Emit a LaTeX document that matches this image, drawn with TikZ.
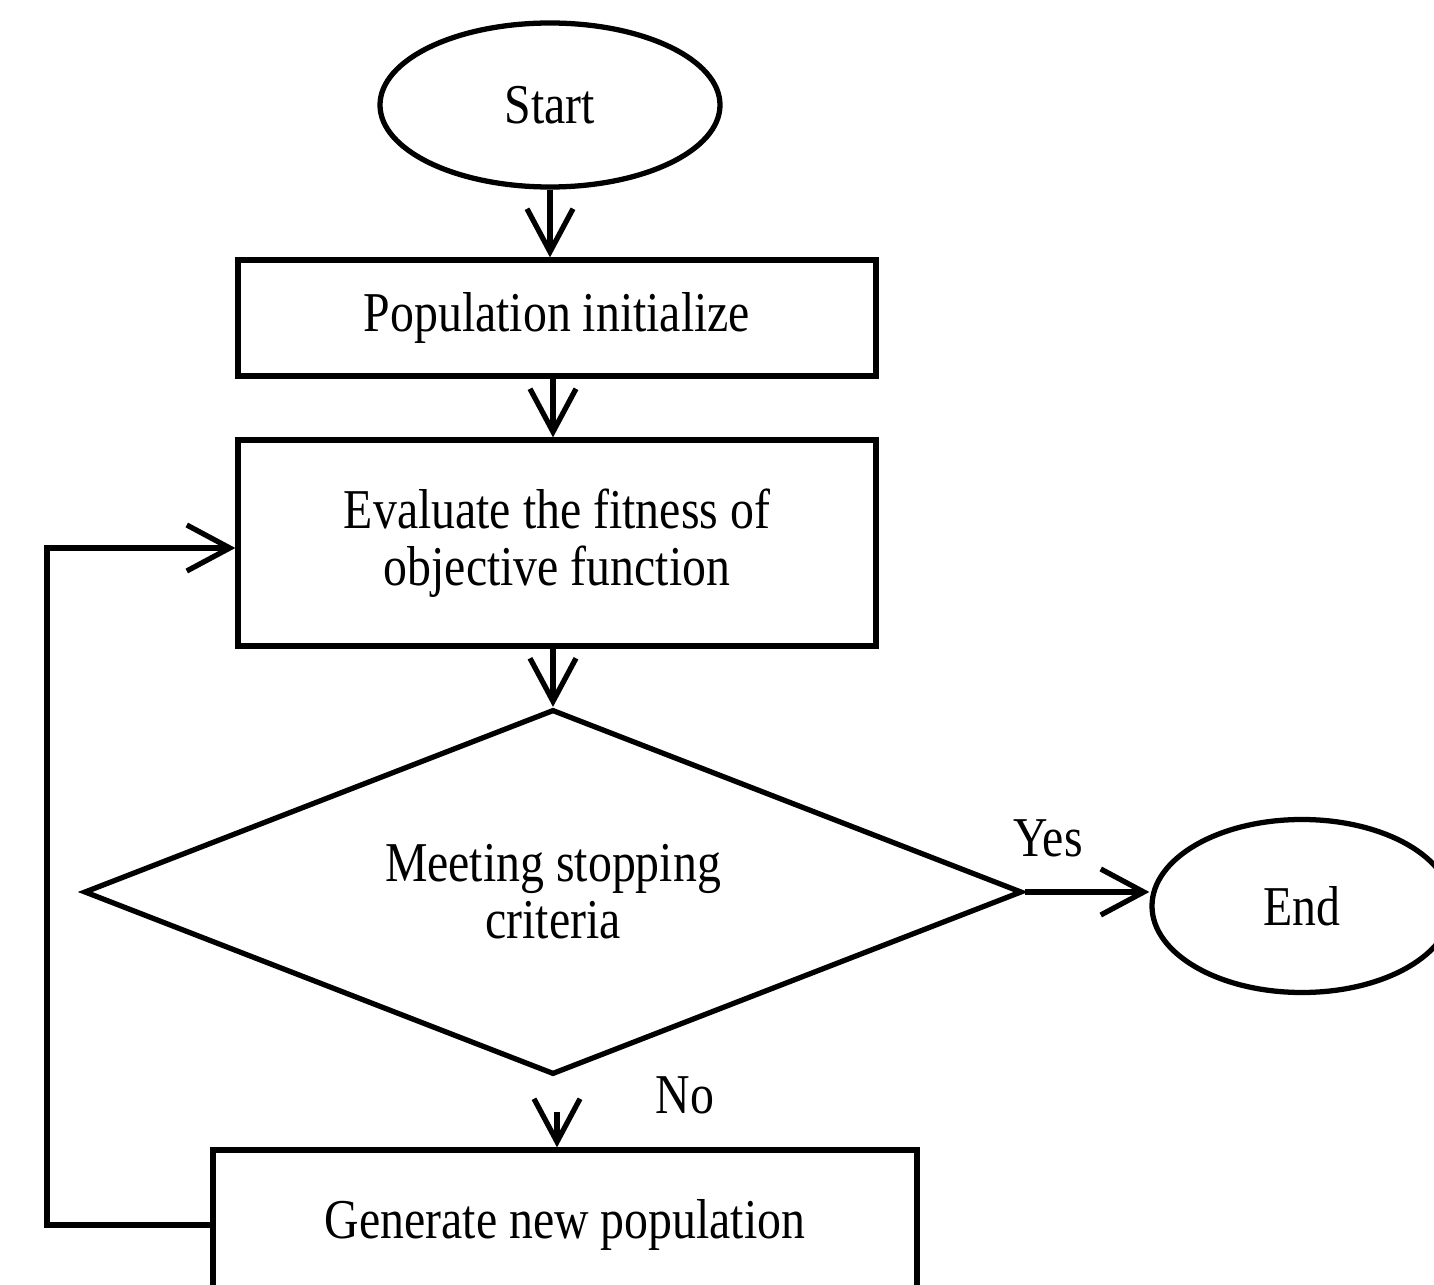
\documentclass[tikz,border=0pt]{standalone}
\usepackage{fontspec}
\setmainfont{Liberation Serif}[FakeStretch=0.85]
\usetikzlibrary{shapes.geometric,arrows.meta}

\begin{document}
\begin{tikzpicture}[
    line width=1.5pt,
    every node/.style={font=\fontsize{16}{16.2}\selectfont, align=center, inner sep=0pt},
    terminal/.style={draw, ellipse},
    procbox/.style={draw, rectangle, minimum width=6.38cm},
    decision/.style={draw, diamond, aspect=2.57, minimum width=9.38cm, minimum height=3.65cm},
    flow/.style={-{Straight Barb[length=4.3mm,width=4.6mm,line width=1.5pt]}}
  ]
    \useasboundingbox (0,0) rectangle (14.34,-12.85); % page size of the reference
    \clip (0,0) rectangle (14.34,-12.85);
    \node[terminal, minimum width=3.4cm, minimum height=1.64cm] (start) at (5.50,-1.05) {Start};
    \node[procbox, minimum height=1.16cm] (init) at (5.57,-3.18) {Population initialize};
    \node[procbox, minimum height=2.06cm] (eval) at (5.57,-5.43) {Evaluate the fitness of\\objective function};
    \node[decision] (stop) at (5.53,-8.92) {Meeting stopping\\criteria};
    \node[terminal, minimum width=3.0cm, minimum height=1.73cm] (end) at (13.02,-9.06) {End};
    \node[procbox, minimum width=7.04cm, minimum height=1.50cm] (gen) at (5.65,-12.25) {Generate new population};
    \node (yes) at (10.48,-8.38) {Yes}; % label of the exit branch
    \node (no) at (6.85,-10.95) {No}; % label of the loop branch
    \coordinate (back) at (0.47,-5.48); % corner of the feedback line
    \draw[flow] (start.south) -- (start.south |- init.north);
    \draw[flow] (init.south -| 5.53,0) -- (eval.north -| 5.53,0);
    \draw[flow] (eval.south -| stop.north) -- (stop.north);
    \draw[flow] (stop.east) -- (stop.east -| end.west);
    \draw[flow, shorten <=3.5mm] (stop.south -| 5.57,0) -- (gen.north -| 5.57,0);
    \draw[flow] (gen.west) -- (back |- gen.west) -- (back) -- (back -| eval.west); % back to evaluation
\end{tikzpicture}
\end{document}
